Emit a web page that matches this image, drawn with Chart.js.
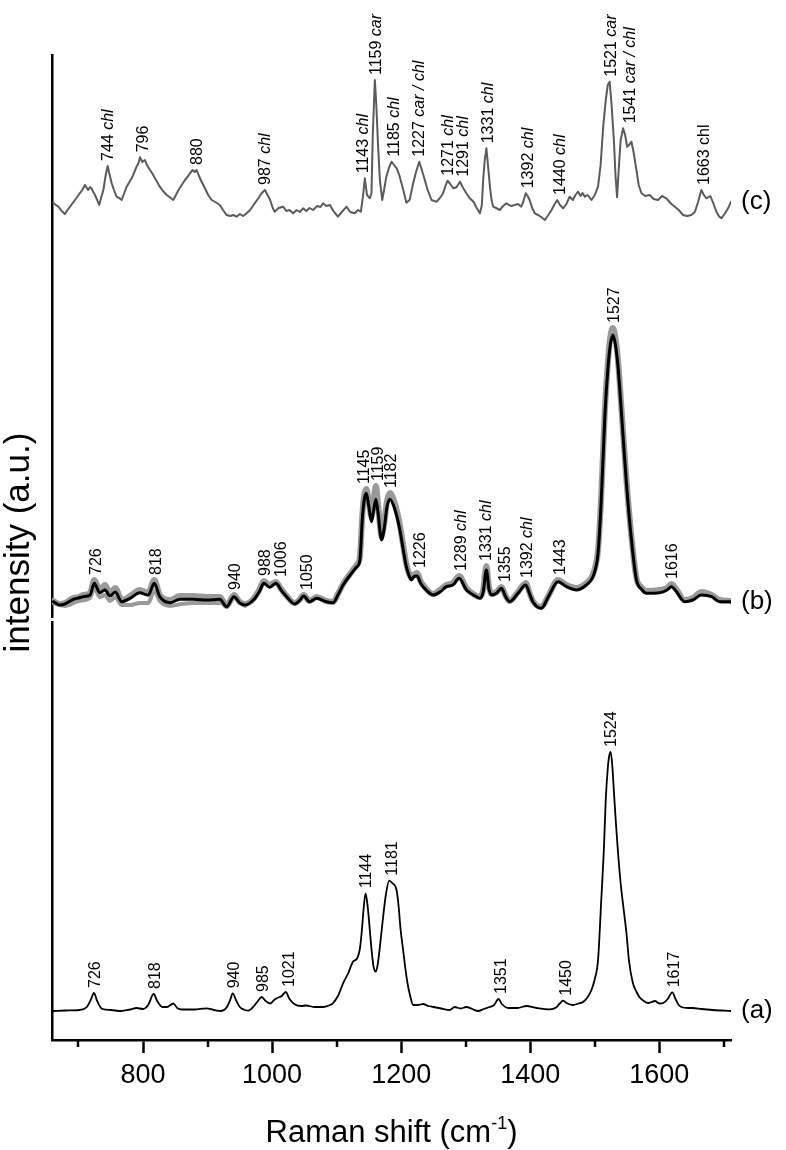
<!DOCTYPE html>
<html>
<head>
<meta charset="utf-8">
<title>Raman spectra</title>
<script src="https://cdn.jsdelivr.net/npm/chart.js@4.4.1/dist/chart.umd.min.js"></script>
<style>
  html, body { margin: 0; padding: 0; background: #fff; }
  #wrap { width: 786px; height: 1150px; }
</style>
</head>
<body>
<div id="wrap"><canvas id="chart" width="786" height="1150"></canvas></div>
<script>
// x axis (Raman shift, cm-1)
const xMin = 659;
const xMax = 1711;
const xTicks = [700, 800, 900, 1000, 1100, 1200, 1300, 1400, 1500, 1600, 1700];

// vertical stacking of the three spectra (a), (b), (c)
const stackOffset = [29, 433, 820];
const panelNames = ['(a)', '(b)', '(c)'];

// spectrum (a)
const aShift = [
  661, 680, 702, 713, 719, 724, 729, 737, 750, 766,
  780, 790, 800, 808, 816.5, 822, 830, 837, 847, 853,
  860, 880, 898, 910, 921, 930, 935, 939, 944, 950,
  958, 963, 972, 978, 984, 990, 997, 1003, 1008, 1015,
  1021, 1027, 1035, 1045, 1053, 1065, 1079, 1088, 1094, 1102,
  1110, 1118, 1125, 1132, 1136, 1139, 1141.5, 1144.8, 1148, 1151,
  1154, 1157, 1160.8, 1164, 1168, 1172, 1176, 1181.4, 1186, 1192.8,
  1196, 1199, 1203, 1207, 1210, 1213, 1218.6, 1226, 1234, 1242,
  1250, 1262, 1275, 1283, 1292, 1301, 1310, 1319, 1328, 1337,
  1344, 1350.8, 1356, 1366, 1380, 1394, 1410, 1430, 1440, 1445,
  1450.9, 1456, 1466, 1475, 1481.8, 1489, 1494.8, 1500, 1505, 1510,
  1514, 1517, 1520, 1522, 1524.5, 1527, 1530, 1533, 1536, 1540,
  1545, 1549, 1553, 1559, 1564, 1569, 1576,
  1582.5, 1588, 1593, 1600, 1606, 1613, 1620, 1625, 1630, 1634,
  1645, 1652, 1665, 1683, 1711
];
const aInt = [
  0, 0.5, 1, 4, 11, 18, 10, 2, 1, 0,
  1.5, 3, 2, 6, 17, 10, 4, 4, 7.5, 3,
  1.5, 1.5, 2.7, 1, 0, 4, 11, 17.7, 11, 4,
  1, 0.3, 5, 10, 14, 10, 7.5, 11, 13, 15,
  19, 12, 6.7, 5, 5.5, 4, 4, 5.5, 7.7, 15,
  27.7, 38, 49, 53, 62, 80, 100, 117.7, 105, 84,
  62, 45, 39.3, 48, 70, 94, 115, 130.3, 128, 121,
  105, 82, 61, 40, 27, 17.7, 6, 6, 7, 5,
  4, 2.5, 1, 4, 2.5, 4, 2, 0, 2, 4,
  6, 12, 7, 3, 3, 5, 3, 1.7, 3.5, 7,
  10.3, 8, 6, 7.5, 9, 14, 21, 32, 51, 111,
  161, 212, 242, 254, 259, 246, 215, 185, 158, 128,
  100, 78, 50, 28, 20, 14, 10,
  8, 9, 10, 7.5, 8, 12, 18.7, 12, 6, 4,
  3, 3, 2, 1, 0
];

// spectrum (b): black mean trace and two grey replicate traces
const bShift = [
  661, 671, 679, 692, 700, 707.5, 718, 724.5, 733, 741,
  749, 757, 767, 780, 795, 808, 817.5, 826, 842, 857,
  878, 898.6, 919, 929.5, 941, 950, 958, 971, 980, 987.3,
  996, 1006, 1014, 1022.5, 1035, 1042, 1049, 1058, 1069, 1084,
  1094.6, 1102, 1110, 1123, 1131, 1136, 1140, 1143, 1146, 1150,
  1154, 1157, 1160.8, 1164, 1169.6, 1174, 1178, 1182.5, 1190, 1198,
  1203, 1208, 1213, 1216, 1219, 1224.8, 1230, 1234, 1249.5, 1260,
  1270, 1280, 1290, 1301, 1312, 1322, 1327, 1332, 1336, 1340,
  1347.7, 1355.4, 1362, 1368, 1381, 1393, 1399, 1404, 1417, 1428,
  1443, 1456, 1471.5, 1487, 1496, 1501, 1505, 1510, 1515.5, 1520.5,
  1524, 1528, 1532, 1536, 1542.8, 1549, 1556.8, 1564.5, 1572, 1580,
  1600.6, 1612, 1618.7, 1626, 1639, 1652, 1665, 1681, 1693.5, 1711
];
const bBlack = [
  5.3, 2, 3, 7.7, 9, 10.3, 12, 23.7, 14.3, 17,
  11, 15, 5.3, 8.7, 14.3, 11.7, 23.7, 10.3, 4.3, 7.7,
  7.7, 7, 7.7, 0.3, 10.3, 4, 2, 7, 15, 23.7,
  19.7, 23.7, 17, 10.3, 3, 6, 11, 5.3, 8.7, 5.3,
  4.3, 12, 22, 33.7, 40, 47, 90, 108, 113.7, 100,
  85.3, 95, 107.7, 95, 67, 80, 100, 107.7, 98, 77,
  58, 40.3, 30, 27, 30, 31, 24, 20.3, 12, 15,
  20.3, 22, 28.7, 17, 12, 8.7, 15, 37, 18, 12,
  13.7, 18.7, 10, 5.3, 13.7, 22, 13, 5.3, -1.3, 10.3,
  25.3, 20.3, 17, 22, 28.7, 38, 53.7, 107, 190.3, 240.3,
  262, 272, 262, 240, 180, 123.7, 67, 27, 18, 13.7,
  14.3, 17, 20.3, 15.7, 5.3, 7, 12, 10.3, 5.3, 5.3
];
const bGrayHi = [
  6, 3, 4, 9, 10, 12, 14, 27, 17, 22,
  14, 19, 7, 11, 17, 14, 27, 12, 7, 11,
  11, 10, 10, 1.5, 12, 5, 3, 8, 17, 26,
  22, 25, 18, 11, 4, 7, 12, 6, 10, 6,
  5, 13, 23, 35, 42, 50, 94, 113, 118, 104,
  90, 105, 121, 104, 71, 85, 106, 114, 104, 82,
  62, 43, 32, 29, 32, 34, 26, 22, 13, 17,
  22, 24, 31, 19, 13, 10, 17, 41, 20, 13,
  15, 20, 11, 6, 15, 24, 14, 6, 0, 11,
  27, 22, 19, 24, 31, 41, 57, 112, 196, 247,
  270, 279, 269, 246, 184, 127, 70, 29, 20, 16,
  17, 19, 23, 18, 7, 9, 15, 12, 7, 6
];
const bLoShift = [
  661, 679, 700, 718, 724.5, 733, 741, 749, 757, 767,
  780, 795, 808, 817.5, 826, 842, 860, 880, 900, 920,
  930, 941, 958
];
const bGrayLo = [
  4, 1, 6, 9, 19, 10, 12, 6, 10, 2,
  2, 4, 4, 16, 6, 1, 3, 4, 4, 4,
  0, 9, 1
];

// spectrum (c)
const cShift = [
  661, 665, 669, 674, 679, 683, 687, 691, 694.6, 698,
  702, 706, 710, 713, 715, 718, 720, 723, 725.6, 729,
  732, 735, 738.6, 742, 745.2, 748, 751.5, 755, 759, 763,
  767, 771, 774.7, 778, 782.5, 786, 790, 793, 795.3, 799,
  803, 806, 810.8, 814, 818.6, 822, 826, 831, 836.7, 841,
  846.9, 851, 855, 860, 865, 870, 873, 876.9, 880, 883,
  886, 891, 896, 901, 906.4, 912, 919, 924, 929.5, 935,
  940, 945, 950, 955, 960.5, 966, 973, 979, 984, 988.9,
  993, 997, 1001, 1004, 1010, 1017, 1022, 1027, 1032.7, 1038,
  1043, 1048, 1053, 1058, 1063.6, 1070, 1075, 1079, 1084, 1089.6,
  1095, 1102, 1108, 1115.4, 1121, 1128, 1133, 1137.6, 1141, 1143.7,
  1147, 1151.5, 1154, 1156, 1159.2, 1161.5, 1164, 1167, 1170.6, 1174,
  1177, 1181, 1185, 1189, 1193, 1197, 1200.5, 1204, 1208, 1213,
  1218.6, 1223, 1228, 1232, 1236.6, 1241, 1247, 1251, 1255, 1260,
  1265, 1268, 1271.8, 1276, 1281, 1286, 1291, 1296, 1301, 1306,
  1312, 1317, 1322, 1325, 1327, 1329.5, 1332, 1334.5, 1337.5, 1340,
  1342.5, 1347, 1352.8, 1358, 1363, 1370, 1376, 1381, 1386, 1389,
  1393, 1396, 1399, 1403, 1407, 1412, 1417, 1422.5, 1428, 1433,
  1437, 1441.7, 1446, 1451, 1456, 1461, 1466, 1470, 1474, 1478,
  1481, 1484.5, 1489, 1494.8, 1500, 1505, 1509, 1513, 1517, 1520,
  1523, 1526, 1529.8, 1532, 1534.5, 1537, 1540, 1543.8, 1547, 1550,
  1553, 1556.8, 1560, 1564.5, 1568, 1572.3, 1578, 1585, 1591, 1598,
  1604, 1611, 1617, 1624, 1630, 1636.7, 1643, 1649.6, 1655, 1660,
  1665, 1669, 1673, 1679, 1684, 1688.4, 1692, 1696, 1701, 1706.5,
  1711
];
const cInt = [
  17.3, 15, 13.3, 9, 6, 10, 13.3, 17, 20, 23,
  26.7, 30, 35, 32, 30, 33, 31.7, 28, 25, 20,
  15, 22, 30, 44, 54, 46, 36.7, 30, 23.3, 22,
  20, 27, 33.3, 37, 41.7, 47, 53.3, 57, 62.7, 58,
  60, 55, 50, 47, 41.7, 38, 33.3, 29, 25, 23,
  20, 25, 30, 35, 40, 44, 47, 50, 48, 50,
  45, 38, 31.7, 25, 20, 18, 15, 10, 5, 4,
  5, 3.3, 6, 4, 6.7, 10, 16.7, 22, 27, 30,
  25, 20, 12, 8.3, 12, 13.3, 9, 10, 6.7, 10,
  8, 11.7, 9, 12, 10, 14, 13, 16.7, 14, 15,
  9, 3.3, 8, 13.3, 8, 6.7, 10, 8.3, 25, 41.7,
  25, 21.7, 27, 85, 140, 115, 76.7, 40, 20, 32,
  43.3, 52, 58.3, 55, 51.7, 45, 36.7, 28, 17.3, 20,
  36.7, 48, 58.3, 50, 40, 30, 20, 19, 18.3, 22,
  26.7, 33, 39.3, 36, 31.7, 33, 38.3, 32, 26.7, 22,
  18.3, 12, 6.7, 15, 40, 60, 71.7, 55, 33.3, 20,
  13.3, 12, 10, 14, 16.7, 14, 15, 16, 13.3, 18,
  26.7, 24, 20, 12, 6.7, 5, 3, 0, 5, 10,
  15, 20, 15, 11.7, 16, 23.3, 20, 25, 28.3, 24,
  27, 23.3, 25, 20, 25, 33.3, 55, 93.3, 120, 135,
  138.3, 115, 76.7, 45, 22.7, 50, 80, 91.7, 85, 73.3,
  75, 78.3, 68, 50, 35, 26.7, 24, 25, 21, 20,
  24, 21.7, 17, 13.3, 10, 5, 4, 5, 8, 18,
  30, 25, 21.7, 24, 16, 8.3, 4, 1.7, 6, 11.7,
  18.3
];

// band labels: number, italic assignment, wavenumber where the label stands
const aLabelNum = ['726', '818', '940', '985', '1021', '1144', '1181', '1351', '1450', '1524', '1617'];
const aLabelNote = ['', '', '', '', '', '', '', '', '', '', ''];
const aLabelAt = [724, 817.5, 940, 984, 1025, 1144, 1185, 1353, 1453.5, 1524, 1621];

const bLabelNum = ['726', '818', '940', '988', '1006', '1050', '1145', '1159', '1182', '1226',
  '1289', '1331', '1355', '1392', '1443', '1527', '1616'];
const bLabelNote = ['', '', '', '', '', '', '', '', '', '',
  ' chl', ' chl', '', ' chl', '', '', ''];
const bLabelAt = [725.6, 818.5, 942, 987, 1013, 1053, 1141, 1163, 1182.5, 1228,
  1291, 1329.6, 1359, 1394, 1444.6, 1528, 1618.7];

const cLabelNum = ['744', '796', '880', '987', '1143', '1159', '1185', '1227', '1271', '1291',
  '1331', '1392', '1440', '1521', '1541', '1663 chl'];
const cLabelNote = [' chl', '', '', ' chl', ' chl', ' car', ' chl', ' car / chl', ' chl', ' chl',
  ' chl', ' chl', ' chl', ' car', ' car / chl', ''];
const cLabelAt = [744, 798, 882, 987, 1140, 1159, 1188, 1226, 1272, 1295,
  1333, 1395, 1445, 1524, 1553, 1668];

const FONT = '"Liberation Sans", Arial, Helvetica, sans-serif';
Chart.defaults.font.family = FONT;
Chart.defaults.color = '#000';

const toPoints = (xs, ys, off) => xs.map((v, i) => ({ x: v, y: ys[i] + off }));

const labelSets = [
  { num: aLabelNum, note: aLabelNote, at: aLabelAt, off: stackOffset[0],
    series: [[aShift, aInt]] },
  { num: bLabelNum, note: bLabelNote, at: bLabelAt, off: stackOffset[1],
    series: [[bShift, bBlack], [bShift, bGrayHi], [bLoShift, bGrayLo]] },
  { num: cLabelNum, note: cLabelNote, at: cLabelAt, off: stackOffset[2],
    series: [[cShift, cInt]] }
];
const lastValues = [aInt[aInt.length - 1], bBlack[bBlack.length - 1], cInt[cInt.length - 1]];

const annotations = {
  id: 'annotations',
  afterDraw(chart) {
    const { ctx, chartArea, scales: { x, y } } = chart;
    ctx.save();
    ctx.fillStyle = '#000';
    ctx.strokeStyle = '#000';

    // minor ticks
    ctx.lineWidth = 2.5;
    xTicks.filter(v => v % 200 !== 0).forEach(v => {
      const px = Math.round(x.getPixelForValue(v));
      ctx.beginPath();
      ctx.moveTo(px, chartArea.bottom);
      ctx.lineTo(px, chartArea.bottom + 7);
      ctx.stroke();
    });

    // small break in the y axis between (b) and (a)
    ctx.fillStyle = '#fff';
    ctx.fillRect(chartArea.left - 3, 618, 6, 3);
    ctx.fillStyle = '#000';

    // band labels, rotated
    labelSets.forEach(set => {
      set.num.forEach((num, i) => {
        const at = set.at[i];
        let top = -Infinity;
        set.series.forEach(([xs, ys]) => {
          xs.forEach((v, k) => { if (Math.abs(v - at) <= 10) top = Math.max(top, ys[k]); });
        });
        const px = x.getPixelForValue(at);
        const py = y.getPixelForValue(top + set.off) - 5;
        ctx.save();
        ctx.translate(px, py);
        ctx.rotate(-Math.PI / 2);
        ctx.textAlign = 'left';
        ctx.textBaseline = 'alphabetic';
        ctx.font = '16px ' + FONT;
        ctx.fillText(num, 0, 5.8);
        if (set.note[i]) {
          const w = ctx.measureText(num).width;
          ctx.font = 'italic 16px ' + FONT;
          ctx.fillText(set.note[i], w, 5.8);
        }
        ctx.restore();
      });
    });

    // panel names at right
    ctx.font = '26px ' + FONT;
    ctx.textAlign = 'left';
    ctx.textBaseline = 'middle';
    panelNames.forEach((name, i) => {
      ctx.fillText(name, chartArea.right + 10, y.getPixelForValue(lastValues[i] + stackOffset[i]));
    });

    // x title with superscript
    const cx = (chartArea.left + chartArea.right) / 2;
    const base = 1142;
    ctx.textBaseline = 'alphabetic';
    ctx.font = '31px ' + FONT;
    const t1 = 'Raman shift (cm', t3 = ')';
    const w1 = ctx.measureText(t1).width, w3 = ctx.measureText(t3).width;
    ctx.font = '18px ' + FONT;
    const t2 = '-1';
    const w2 = ctx.measureText(t2).width;
    const sx = cx - (w1 + w2 + w3) / 2;
    ctx.font = '31px ' + FONT;
    ctx.fillText(t1, sx, base);
    ctx.font = '18px ' + FONT;
    ctx.fillText(t2, sx + w1, base - 13);
    ctx.font = '31px ' + FONT;
    ctx.fillText(t3, sx + w1 + w2, base);

    // y title
    ctx.save();
    ctx.translate(19, (chartArea.top + chartArea.bottom) / 2 - 5);
    ctx.rotate(-Math.PI / 2);
    ctx.textAlign = 'center';
    ctx.textBaseline = 'middle';
    ctx.font = '35px ' + FONT;
    ctx.fillText('intensity (a.u.)', 0, 0);
    ctx.restore();

    ctx.restore();
  }
};

new Chart(document.getElementById('chart'), {
  type: 'line',
  data: {
    datasets: [
      {
        data: toPoints(cShift, cInt, stackOffset[2]),
        borderColor: '#5b5b5b', borderWidth: 2, tension: 0, order: 0
      },
      {
        data: toPoints(bShift, bBlack, stackOffset[1]),
        borderColor: '#000', borderWidth: 3, cubicInterpolationMode: 'monotone', order: 0
      },
      {
        data: toPoints(bShift, bGrayHi, stackOffset[1]),
        borderColor: '#9a9a9a', borderWidth: 6, cubicInterpolationMode: 'monotone', order: 1
      },
      {
        data: toPoints(bLoShift, bGrayLo, stackOffset[1]),
        borderColor: '#9a9a9a', borderWidth: 4, cubicInterpolationMode: 'monotone', order: 1
      },
      {
        data: toPoints(aShift, aInt, stackOffset[0]),
        borderColor: '#000', borderWidth: 1.8, cubicInterpolationMode: 'monotone', order: 0
      }
    ]
  },
  options: {
    responsive: false,
    animation: false,
    events: [],
    parsing: false,
    normalized: true,
    elements: { point: { radius: 0 }, line: { borderCapStyle: 'round', borderJoinStyle: 'round' } },
    layout: { padding: { left: 0, right: 55, top: 55, bottom: 0 } },
    plugins: { legend: { display: false }, tooltip: { enabled: false }, title: { display: false } },
    scales: {
      x: {
        type: 'linear',
        min: xMin,
        max: xMax,
        afterBuildTicks: s => { s.ticks = xTicks.map(v => ({ value: v })); },
        afterFit: s => { s.height = 110; },
        ticks: {
          autoSkip: false,
          maxRotation: 0,
          padding: 6,
          font: { size: 27 },
          color: '#000',
          callback: v => (v % 200 === 0 ? String(v) : '')
        },
        grid: {
          drawOnChartArea: false,
          drawTicks: true,
          tickLength: 13,
          tickWidth: 2.5,
          tickColor: c => (c.tick && c.tick.value % 200 === 0 ? '#000' : 'rgba(0,0,0,0)')
        },
        border: { display: true, color: '#000', width: 2.5 }
      },
      y: {
        type: 'linear',
        min: 0,
        max: 985,
        afterFit: s => { s.width = 52; },
        ticks: { display: false },
        grid: { display: false },
        border: { display: true, color: '#000', width: 2.5 }
      }
    }
  },
  plugins: [annotations]
});
</script>
</body>
</html>
